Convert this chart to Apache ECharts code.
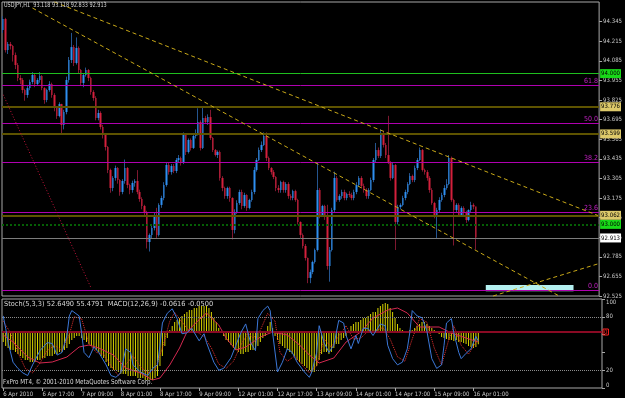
<!DOCTYPE html>
<html>
<head>
<meta charset="utf-8">
<title>USDJPY,H1</title>
<script src="https://cdn.jsdelivr.net/npm/echarts@6/dist/echarts.min.js"></script>
<style>
  html, body { margin: 0; background: #000; }
  #chart { width: 625px; height: 398px; }
</style>
</head>
<body>
<div id="chart"></div>
<script>
// hourly bars, 6 Apr 2010 01:00 .. 16 Apr 2010 03:00
const tickLabels = ['6 Apr 2010', '6 Apr 17:00', '7 Apr 09:00', '8 Apr 01:00', '8 Apr 17:00', '9 Apr 09:00',
  '12 Apr 01:00', '12 Apr 17:00', '13 Apr 09:00', '14 Apr 01:00', '14 Apr 17:00', '15 Apr 09:00', '16 Apr 01:00'];

const firstOpen = 94.289;
const closes = [94.362,94.156,94.196,94.183,94.123,94.057,93.971,93.958,93.891,93.858,
  93.904,93.944,93.991,93.931,93.958,93.984,93.904,93.825,93.891,93.931,
  93.858,93.772,93.719,93.798,93.659,93.745,93.958,94.090,94.176,94.070,
  94.170,94.024,93.938,93.991,94.024,93.971,93.878,93.838,93.706,93.739,
  93.646,93.593,93.513,93.361,93.241,93.308,93.374,93.294,93.215,93.288,
  93.374,93.261,93.228,93.275,93.288,93.215,93.168,93.122,93.082,92.883,
  92.930,92.976,93.062,92.930,93.129,93.175,93.261,93.394,93.347,93.387,
  93.354,93.427,93.440,93.407,93.593,93.480,93.560,93.507,93.586,93.606,
  93.679,93.507,93.706,93.679,93.712,93.573,93.493,93.460,93.480,93.308,
  93.241,93.188,93.241,93.175,92.963,93.082,93.142,93.215,93.122,93.195,
  93.109,93.162,93.215,93.361,93.427,93.493,93.527,93.586,93.440,93.374,
  93.347,93.314,93.241,93.228,93.281,93.228,93.268,93.188,93.175,93.221,
  93.162,93.016,92.930,92.857,92.777,92.645,92.684,92.751,92.830,93.228,
  93.062,93.122,93.062,92.724,92.830,93.095,93.308,93.162,93.188,93.215,
  93.175,93.202,93.195,93.175,93.215,93.261,93.308,93.255,93.228,93.188,
  93.228,93.294,93.427,93.493,93.454,93.606,93.527,93.460,93.414,93.308,
  93.394,93.016,93.115,93.129,93.175,93.215,93.268,93.321,93.294,93.374,
  93.427,93.493,93.361,93.347,93.308,93.228,93.142,93.056,93.095,93.162,
  93.195,93.241,93.268,93.440,93.162,93.095,93.129,93.062,93.109,93.076,
  93.029,93.095,93.129,93.118,92.913];
const highs = [94.38,94.37,94.21,94.21,94.19,94.14,94.07,93.99,93.97,93.90,
  93.92,93.96,94.01,94.00,93.97,94.01,93.99,93.91,93.90,93.95,
  93.94,93.87,93.78,93.81,93.80,93.76,93.98,94.11,94.27,94.19,
  94.24,94.18,94.03,94.00,94.04,94.03,93.98,93.89,93.85,93.76,
  93.75,93.66,93.60,93.52,93.37,93.32,93.39,93.38,93.30,93.30,
  93.43,93.38,93.27,93.29,93.30,93.36,93.23,93.18,93.13,93.09,
  92.94,92.99,93.08,93.11,93.14,93.19,93.28,93.41,93.41,93.40,
  93.40,93.44,93.46,93.45,93.61,93.60,93.57,93.57,93.60,93.63,
  93.77,93.69,93.78,93.72,93.73,93.76,93.58,93.50,93.49,93.49,
  93.32,93.25,93.25,93.25,93.18,93.10,93.16,93.23,93.23,93.21,
  93.20,93.17,93.23,93.38,93.44,93.51,93.55,93.61,93.61,93.45,
  93.38,93.36,93.32,93.26,93.29,93.29,93.28,93.28,93.20,93.23,
  93.23,93.17,93.02,92.94,92.87,92.78,92.70,92.76,92.84,93.41,
  93.24,93.13,93.13,93.13,92.85,93.11,93.35,93.32,93.20,93.23,
  93.23,93.21,93.22,93.21,93.23,93.28,93.32,93.32,93.27,93.24,
  93.24,93.31,93.44,93.54,93.51,93.63,93.62,93.54,93.72,93.42,
  93.41,93.40,93.13,93.14,93.19,93.23,93.28,93.34,93.33,93.39,
  93.44,93.51,93.50,93.37,93.36,93.32,93.24,93.15,93.11,93.18,
  93.21,93.26,93.30,93.46,93.45,93.17,93.14,93.14,93.12,93.12,
  93.09,93.10,93.15,93.14,93.118];
const lows = [94.27,94.14,94.13,94.16,94.08,94.03,93.95,93.93,93.87,93.82,
  93.84,93.89,93.93,93.91,93.92,93.94,93.89,93.80,93.81,93.88,
  93.84,93.75,93.70,93.71,93.60,93.63,93.73,93.94,94.07,94.05,
  94.06,94.00,93.92,93.91,93.98,93.95,93.86,93.82,93.69,93.69,
  93.63,93.57,93.49,93.34,93.21,93.22,93.29,93.27,93.19,93.20,
  93.27,93.24,93.20,93.21,93.25,93.20,93.15,93.10,93.06,92.84,
  92.82,92.91,92.96,92.91,92.92,93.11,93.16,93.25,93.33,93.33,
  93.34,93.34,93.41,93.39,93.40,93.46,93.47,93.49,93.50,93.57,
  93.59,93.49,93.50,93.67,93.66,93.56,93.48,93.45,93.44,93.29,
  93.22,93.17,93.17,93.15,92.90,92.94,93.07,93.13,93.10,93.11,
  93.09,93.10,93.15,93.20,93.35,93.42,93.48,93.52,93.42,93.36,
  93.33,93.30,93.22,93.21,93.21,93.21,93.21,93.17,93.16,93.16,
  93.15,93.00,92.91,92.84,92.76,92.61,92.61,92.67,92.74,92.82,
  93.04,93.05,93.03,92.70,92.62,92.82,93.08,93.15,93.15,93.17,
  93.16,93.16,93.18,93.16,93.16,93.20,93.25,93.24,93.21,93.17,
  93.17,93.22,93.28,93.41,93.44,93.44,93.51,93.44,93.40,93.29,
  93.30,92.83,93.00,93.10,93.12,93.16,93.20,93.26,93.28,93.28,
  93.36,93.42,93.35,93.33,93.29,93.21,93.13,93.04,92.91,93.08,
  93.15,93.18,93.23,93.26,93.15,92.86,93.08,93.05,93.05,93.06,
  93.01,93.02,93.08,93.10,92.833];

// MACD(12,26,9) main as histogram
const macdHist = [-0.05,-0.07,-0.08,-0.09,-0.09,-0.10,-0.11,-0.12,-0.13,-0.14,
  -0.14,-0.15,-0.15,-0.15,-0.14,-0.14,-0.13,-0.13,-0.12,-0.12,
  -0.12,-0.11,-0.11,-0.10,-0.10,-0.09,-0.08,-0.06,-0.04,-0.03,
  -0.02,-0.02,-0.03,-0.04,-0.05,-0.06,-0.07,-0.08,-0.09,-0.10,
  -0.12,-0.13,-0.15,-0.17,-0.18,-0.19,-0.19,-0.20,-0.21,-0.21,
  -0.21,-0.22,-0.22,-0.22,-0.22,-0.23,-0.23,-0.23,-0.24,-0.24,
  -0.24,-0.24,-0.23,-0.22,-0.17,-0.12,-0.07,-0.03,0.01,0.03,
  0.05,0.06,0.07,0.08,0.09,0.10,0.11,0.11,0.12,0.12,
  0.13,0.13,0.13,0.13,0.12,0.10,0.07,0.05,0.02,0.00,
  -0.02,-0.04,-0.05,-0.065,-0.08,-0.09,-0.10,-0.11,-0.11,-0.10,
  -0.10,-0.09,-0.09,-0.085,-0.07,-0.05,-0.03,-0.02,0.03,0.05,
  0.02,-0.02,-0.04,-0.06,-0.07,-0.08,-0.09,-0.10,-0.11,-0.12,
  -0.14,-0.15,-0.16,-0.17,-0.18,-0.19,-0.20,-0.20,-0.17,-0.14,
  -0.11,-0.10,-0.10,-0.11,-0.10,-0.08,-0.06,-0.06,-0.04,-0.03,
  -0.02,0.00,0.03,0.04,0.05,0.05,0.06,0.07,0.07,0.08,
  0.09,0.10,0.10,0.12,0.13,0.14,0.145,0.14,0.12,0.10,
  0.07,0.04,0.02,0.01,0.00,0.00,0.01,0.01,0.02,0.03,
  0.04,0.05,0.05,0.04,0.03,0.02,0.01,0.00,-0.01,-0.025,
  -0.03,-0.035,-0.04,-0.04,-0.045,-0.04,-0.05,-0.05,-0.055,-0.06,
  -0.07,-0.075,-0.08,-0.075,-0.0616];
// MACD signal, [bar, value]
const macdSignal = [[0,-0.015],[4,-0.05],[10,-0.125],[15,-0.155],[20,-0.15],[26,-0.125],[31,-0.075],[35,-0.065],
  [39,-0.08],[45,-0.115],[50,-0.18],[56,-0.205],[61,-0.24],[64,-0.23],[68,-0.165],[72,-0.08],[75,0],[79,0.05],
  [83,0.095],[88,0.035],[91,-0.03],[95,-0.09],[99,-0.075],[105,-0.025],[110,0],[116,-0.015],[121,-0.065],
  [125,-0.115],[129,-0.155],[135,-0.13],[140,-0.05],[146,0],[151,0.07],[157,0.11],[161,0.12],[165,0.095],
  [170,0.025],[178,0.025],[183,-0.005],[189,-0.03],[194,-0.05]];
// Stoch(5,3,3) %K and %D, [bar, value]
const stochK = [[0,81],[1,67],[2,51],[4,29],[6,22],[8,17],[10,14],[12,26],[15,42],[18,51],[20,50],[22,37],[24,40],
  [26,59],[27,81],[28,87],[31,81],[32,62],[33,40],[35,34],[37,46],[39,40],[42,26],[44,14],[46,12],[48,17],[50,44],
  [52,40],[53,26],[56,18],[59,14],[61,22],[63,26],[64,48],[65,73],[67,84],[69,89],[71,78],[73,61],[75,62],[77,67],
  [80,53],[82,61],[83,51],[86,29],[88,20],[90,22],[93,34],[95,48],[97,62],[99,72],[101,51],[103,42],[104,78],
  [106,87],[108,92],[109,87],[110,62],[112,18],[114,29],[116,44],[118,40],[120,29],[123,18],[125,12],[126,18],
  [128,40],[129,70],[131,51],[133,40],[135,48],[137,76],[139,73],[140,59],[142,44],[144,59],[145,50],[147,67],
  [149,67],[151,59],[154,72],[156,70],[157,48],[159,33],[161,26],[163,29],[165,44],[166,62],[167,87],[169,81],
  [171,79],[173,64],[175,33],[177,22],[179,26],[180,48],[181,73],[183,78],[184,62],[186,40],[187,33],[189,39],
  [191,44],[193,58],[194,52.649]];
const stochD = [[0,75],[3,62],[6,40],[9,22],[12,17],[15,28],[18,42],[21,48],[24,42],[27,60],[29,80],[32,78],
  [35,50],[38,40],[41,38],[44,25],[47,14],[50,26],[53,36],[56,24],[59,17],[62,20],[65,45],[68,75],[70,85],[73,74],
  [76,64],[79,63],[82,58],[85,45],[88,27],[91,22],[94,30],[97,48],[100,62],[102,56],[105,65],[108,84],[111,75],
  [113,40],[116,30],[119,36],[122,26],[125,17],[128,25],[131,55],[134,46],[137,58],[140,70],[143,55],[146,56],
  [149,64],[152,64],[155,68],[158,55],[161,35],[164,30],[167,55],[170,78],[173,74],[176,45],[179,26],[182,55],
  [184,70],[187,48],[190,38],[194,55.479]];

// horizontal levels
const fibLevels = [[93.924, '61.8'], [93.666, '50.0'], [93.407, '38.2'], [93.082, '23.6'], [92.565, '0.0']];
const oliveLevels = [93.776, 93.599, 93.062];
const greenLevels = [94.000, 93.000];
const bidPrice = 92.913;

const slots = Array.from({ length: 245 }, (_, i) => i);
const opens = [firstOpen].concat(closes.slice(0, -1));
const ohlc = closes.map((c, i) => [opens[i], c, lows[i], highs[i]]);
const bodies = closes.map((c, i) => [opens[i], c, Math.min(opens[i], c), Math.max(opens[i], c)]);

const FONT = '"Liberation Sans Narrow", "DejaVu Sans Condensed", "Liberation Sans", sans-serif';
const tickAt = (i) => i % 16 === 0 && i <= 192;

function boxLabel(text, bg) {
  return {
    show: true, position: 'end', distance: 1, formatter: text,
    backgroundColor: bg, color: '#000', fontSize: 6, fontFamily: FONT,
    padding: [1, 1, 1, 1], lineHeight: 7
  };
}

const levelLines = [];
fibLevels.forEach(([v, name]) => levelLines.push({
  yAxis: v, lineStyle: { color: '#b000b0', width: 1, type: 'solid' },
  label: { show: true, position: 'insideEndTop', distance: 1, formatter: name, color: '#c020c0', fontSize: 7, fontFamily: FONT }
}));
oliveLevels.forEach(v => levelLines.push({
  yAxis: v, lineStyle: { color: '#5e5300', width: 2, type: 'solid' }, label: boxLabel(v.toFixed(3), '#ddc96a')
}));
levelLines.push({ yAxis: greenLevels[0], lineStyle: { color: '#1fbf1f', width: 1, type: 'solid' }, label: boxLabel('94.000', '#18d818') });
levelLines.push({ yAxis: greenLevels[1], lineStyle: { color: '#055f05', width: 2, type: 'dotted' }, label: boxLabel('93.000', '#18d818') });
levelLines.push({ yAxis: bidPrice, lineStyle: { color: '#7c7c7c', width: 1, type: 'solid' }, label: boxLabel('92.913', '#ffffff') });

const trend = { color: '#c8a818', width: 1, type: [4, 3] };
levelLines.push([{ coord: [21, 94.475], lineStyle: trend, label: { show: false } }, { coord: [244, 93.059] }]);
levelLines.push([{ coord: [12, 94.435], lineStyle: trend, label: { show: false } }, { coord: [228, 92.526] }]);
levelLines.push([{ coord: [201, 92.525], lineStyle: trend, label: { show: false } }, { coord: [244, 92.738] }]);
levelLines.push([{ coord: [0, 93.86], lineStyle: { color: '#c4143a', width: 1, type: [1, 2] }, label: { show: false } }, { coord: [36, 92.58] }]);

const chart = echarts.init(document.getElementById('chart'));
chart.setOption({
  backgroundColor: '#000',
  animation: false,
  textStyle: { fontFamily: FONT },
  grid: [
    { left: 2, right: 23, top: 2, height: 294, show: true, borderColor: '#a8a8a8', borderWidth: 1 },
    { left: 2, right: 23, top: 299, height: 89, show: true, borderColor: '#a8a8a8', borderWidth: 1 }
  ],
  xAxis: [
    { type: 'category', gridIndex: 0, data: slots, axisLine: { show: false }, axisTick: { show: false }, axisLabel: { show: false }, splitLine: { show: false } },
    {
      type: 'category', gridIndex: 1, data: slots, axisLine: { show: false },
      axisTick: { show: true, alignWithLabel: true, interval: tickAt, length: 3, lineStyle: { color: '#a8a8a8' } },
      axisLabel: { interval: tickAt, formatter: (v, i) => tickLabels[i / 16], color: '#c8c8c8', fontSize: 6, fontFamily: FONT, align: 'left', margin: 3 },
      splitLine: { show: false }
    }
  ],
  yAxis: [
    {
      type: 'value', gridIndex: 0, position: 'right', min: 92.525, max: 94.475, interval: 0.13,
      splitLine: { show: false }, axisLine: { show: false },
      axisTick: { show: true, length: 3, lineStyle: { color: '#a8a8a8' } },
      axisLabel: { color: '#c8c8c8', fontSize: 6, fontFamily: FONT, margin: 4, showMaxLabel: false, formatter: v => v.toFixed(3) }
    },
    {
      type: 'value', gridIndex: 1, position: 'right', min: 0, max: 100, interval: 20,
      splitLine: { show: false }, axisLine: { show: false },
      axisTick: { show: true, length: 3, lineStyle: { color: '#a8a8a8' } },
      axisLabel: {
        color: '#c8c8c8', fontSize: 6, fontFamily: FONT, margin: 4,
        verticalAlignMaxLabel: 'top', verticalAlignMinLabel: 'bottom',
        formatter: v => ([0, 20, 80, 100].includes(v) ? String(v) : '')
      }
    },
    { type: 'value', gridIndex: 1, min: -0.28, max: 0.165, show: false }
  ],
  series: [
    {
      name: 'wicks', type: 'candlestick', xAxisIndex: 0, yAxisIndex: 0, data: ohlc, barWidth: 1, z: 2,
      itemStyle: { color: '#163a70', color0: '#5a0c20', borderColor: '#25558f', borderColor0: '#7e1830', borderWidth: 1 }
    },
    {
      name: 'USDJPY', type: 'candlestick', xAxisIndex: 0, yAxisIndex: 0, data: bodies, barWidth: 2, z: 3,
      itemStyle: { color: '#2e8ff0', color0: '#d4203c', borderColor: '#2e8ff0', borderColor0: '#d4203c', borderWidth: 0 }
    },
    {
      name: 'objects', type: 'line', xAxisIndex: 0, yAxisIndex: 0, data: [], z: 4,
      markLine: { symbol: ['none', 'none'], silent: true, animation: false, data: levelLines },
      markArea: {
        silent: true,
        data: [[{ coord: [198, 92.598], itemStyle: { color: '#b4f0f0' } }, { coord: [234, 92.556] }]]
      }
    },
    {
      name: 'MACD', type: 'bar', xAxisIndex: 1, yAxisIndex: 2, data: macdHist, barWidth: 1, z: 2,
      itemStyle: { color: '#d8d400' },
      markLine: {
        symbol: ['none', 'none'], silent: true,
        data: [{
          yAxis: 0, lineStyle: { color: '#8a0a24', width: 2, type: 'solid' },
          label: { show: true, position: 'end', distance: 1, formatter: '0', color: '#ff2020', borderColor: '#ff2020', borderWidth: 1, padding: [0, 1], fontSize: 6, fontFamily: FONT }
        }]
      }
    },
    {
      name: 'Signal', type: 'line', xAxisIndex: 1, yAxisIndex: 2, data: macdSignal, showSymbol: false, z: 3,
      lineStyle: { color: '#d42850', width: 1 }
    },
    {
      name: '%D', type: 'line', xAxisIndex: 1, yAxisIndex: 1, data: stochD, showSymbol: false, z: 4,
      lineStyle: { color: '#e83030', width: 1, type: 'dotted' }
    },
    {
      name: '%K', type: 'line', xAxisIndex: 1, yAxisIndex: 1, data: stochK, showSymbol: false, z: 5,
      lineStyle: { color: '#3c78d8', width: 1 },
      markLine: {
        symbol: ['none', 'none'], silent: true, label: { show: false },
        lineStyle: { color: '#8c8c8c', width: 1, type: 'dotted' },
        data: [{ yAxis: 80 }, { yAxis: 20 }]
      }
    }
  ],
  graphic: [
    { type: 'text', x: 4, y: 2, scaleX: 0.78, z: 100, style: { text: 'USDJPY,H1  93.118 93.118 92.833 92.913', fill: '#d8d8d8', font: '7px ' + FONT } },
    { type: 'text', x: 4, y: 301, scaleX: 1.05, z: 100, style: { text: 'Stoch(5,3,3) 52.6490 55.4791  MACD(12,26,9) -0.0616 -0.0500', fill: '#d8d8d8', font: '7px ' + FONT } },
    { type: 'text', x: 3, y: 379, scaleX: 0.89, z: 100, style: { text: 'FxPro MT4, © 2001-2010 MetaQuotes Software Corp.', fill: '#d8d8d8', font: '7px ' + FONT } }
  ]
});
</script>
</body>
</html>
